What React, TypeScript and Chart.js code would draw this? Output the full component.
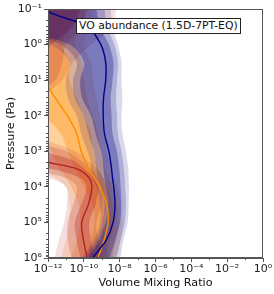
import React, { useEffect, useRef } from 'react';
import { Chart, registerables } from 'chart.js';

Chart.register(...registerables);

// log10 pressure levels (Pa)
const logP = [-1.5, -1, -0.5, 0, 0.5, 1, 1.5, 2, 2.5, 3, 3.25, 3.5, 3.75, 4, 4.5, 5, 5.5, 6, 6.5];

// log10 VMR — navy series
const navyMed = [-13, -12.3, -9.8, -9.05, -8.78, -8.78, -8.9, -8.92, -8.85, -8.6, -8.52, -8.45, -8.4, -8.33, -8.26, -8.37, -8.75, -9.5, -10];
const navyLo1 = [-14, -14, -14, -10.8, -10.0, -10.2, -10.1, -9.6, -9.35, -9.05, -8.95, -8.9, -8.85, -8.75, -8.65, -8.8, -9.15, -9.75, -10.1];
const navyHi1 = [-9.5, -9.3, -9.1, -8.6, -8.35, -8.4, -8.5, -8.45, -8.4, -8.15, -8.08, -8.02, -7.98, -7.95, -7.9, -7.98, -8.25, -8.55, -8.8];
const navyLo2 = [-14, -14, -14, -11.3, -10.4, -10.6, -10.5, -10.0, -9.75, -9.45, -9.35, -9.3, -9.2, -9.0, -8.85, -8.95, -9.3, -9.9, -10.3];
const navyHi2 = [-9.0, -8.85, -8.7, -8.3, -8.1, -8.15, -8.2, -8.15, -8.1, -7.9, -7.82, -7.76, -7.72, -7.7, -7.65, -7.72, -7.95, -8.2, -8.4];
const navyLo3 = [-14, -14, -14, -11.8, -10.8, -11.0, -10.9, -10.4, -10.15, -9.8, -9.65, -9.6, -9.5, -9.3, -9.1, -9.1, -9.45, -10.1, -10.5];
const navyHi3 = [-8.6, -8.5, -8.4, -8.1, -7.9, -7.9, -7.85, -7.9, -7.85, -7.65, -7.58, -7.52, -7.5, -7.48, -7.5, -7.55, -7.8, -7.95, -8.1];

// log10 VMR — orange series
const orangeMed = [-14, -14, -14, -13.5, -12.8, -12.2, -11.6, -10.92, -10.4, -10.15, -9.93, -9.72, -9.42, -9.12, -8.72, -8.65, -8.87, -9.21, -9.5];
const orangeLo1 = [-14, -14, -14, -14, -14, -14, -13, -12.2, -11.3, -10.9, -10.7, -10.5, -10.25, -10.0, -9.5, -9.4, -9.6, -9.9, -10.2];
const orangeHi1 = [-10.2, -10.3, -10.8, -11.2, -10.8, -10.8, -10.4, -10.0, -9.6, -9.5, -9.35, -9.2, -8.95, -8.7, -8.4, -8.3, -8.5, -8.8, -9.0];
const orangeLo2 = [-14, -14, -14, -14, -14, -14, -14, -13.5, -12.5, -11.8, -11.6, -11.4, -11.0, -10.7, -10.3, -10.2, -10.4, -10.7, -11.0];
const orangeHi2 = [-9.8, -9.9, -10.2, -10.5, -10.1, -10.0, -9.8, -9.5, -9.2, -9.1, -8.95, -8.8, -8.6, -8.4, -8.15, -8.05, -8.2, -8.4, -8.6];
const orangeLo3 = [-14, -14, -14, -14, -14, -14, -14, -14, -13.5, -12.8, -12.6, -12.3, -11.6, -11.0, -10.8, -10.8, -11.0, -11.3, -11.6];
const orangeHi3 = [-9.4, -9.5, -9.7, -10.0, -9.6, -9.5, -9.3, -9.1, -8.85, -8.75, -8.6, -8.5, -8.3, -8.1, -7.95, -7.85, -7.95, -8.1, -8.3];

// log10 VMR — red series
const redMed = [-14, -14, -14, -14, -14, -14, -14, -14, -14, -13, -12.4, -10.35, -9.7, -9.55, -9.75, -10.12, -10.02, -9.82, -9.7];
const redLo1 = [-14, -14, -14, -14, -14, -14, -14, -14, -14, -14, -14, -11.8, -10.2, -9.85, -10.15, -10.5, -10.4, -10.2, -10.1];
const redHi1 = [-10.0, -10.2, -10.6, -11.8, -12.5, -13, -14, -14, -14, -12.2, -10.6, -9.95, -9.4, -9.2, -9.35, -9.7, -9.6, -9.4, -9.3];
const redLo2 = [-14, -14, -14, -14, -14, -14, -14, -14, -14, -14, -14, -13, -11.0, -10.4, -10.6, -10.9, -10.9, -10.7, -10.6];
const redHi2 = [-9.6, -9.8, -10.1, -11.0, -11.2, -11.6, -13, -14, -14, -11.0, -10.2, -9.6, -9.2, -8.95, -9.0, -9.3, -9.2, -9.0, -8.9];
const redLo3 = [-14, -14, -14, -14, -14, -14, -14, -14, -14, -14, -14, -14, -12, -11.0, -10.95, -11.1, -11.4, -11.6, -11.5];
const redHi3 = [-8.1, -8.2, -8.4, -9.6, -10.6, -11.2, -12.5, -14, -13, -10.5, -9.8, -9.3, -8.9, -8.7, -8.7, -8.9, -8.8, -8.6, -8.5];

const xMajorExps = [-12, -10, -8, -6, -4, -2, 0];
const xMinorExps = [-11, -9, -7, -5, -3, -1];
const yMajorExps = [-1, 0, 1, 2, 3, 4, 5, 6];
const legendTitle = 'VO abundance (1.5D-7PT-EQ)';
const xTitle = 'Volume Mixing Ratio';
const yTitle = 'Pressure (Pa)';

const SUP: Record<string, string> = { '-': '⁻', '0': '⁰', '1': '¹', '2': '²', '3': '³', '4': '⁴', '5': '⁵', '6': '⁶', '7': '⁷', '8': '⁸', '9': '⁹' };
const tenPow = (e: number) => '10' + String(e).split('').map((c) => SUP[c] || c).join('');

const pts = (vals: number[]) => vals.map((v, i) => ({ x: Math.pow(10, v), y: Math.pow(10, logP[i]) }));

function band(lo: number[], hi: number[], color: string, order: number) {
  return {
    data: [...pts(lo), ...pts(hi).reverse()],
    fill: 'shape',
    backgroundColor: color,
    borderWidth: 0,
    pointRadius: 0,
    tension: 0.35,
    order,
  };
}

function medLine(vals: number[], color: string) {
  return {
    data: pts(vals),
    fill: false,
    borderColor: color,
    borderWidth: 1.4,
    pointRadius: 0,
    tension: 0.35,
    order: 0,
  };
}

const AXIS = '#555';

const framePlugin = {
  id: 'frame',
  afterDraw(chart: any) {
    const { ctx, chartArea: a, scales } = chart;
    ctx.save();
    ctx.strokeStyle = AXIS;
    ctx.lineWidth = 1;
    ctx.strokeRect(a.left + 0.5, a.top + 0.5, a.right - a.left - 1, a.bottom - a.top - 1);
    ctx.beginPath();
    for (const e of xMinorExps) {
      const px = Math.round(scales.x.getPixelForValue(Math.pow(10, e))) + 0.5;
      ctx.moveTo(px, a.bottom);
      ctx.lineTo(px, a.bottom + 2);
    }
    for (let e = -1; e < 6; e++) {
      for (let m = 2; m <= 9; m++) {
        const py = Math.round(scales.y.getPixelForValue(m * Math.pow(10, e))) + 0.5;
        ctx.moveTo(a.left, py);
        ctx.lineTo(a.left - 2, py);
      }
    }
    ctx.stroke();
    ctx.restore();
  },
};

export default function App() {
  const ref = useRef<HTMLCanvasElement>(null);
  useEffect(() => {
    document.body.style.margin = '0';
    Chart.defaults.font.family = 'DejaVu Sans';
    const navyFill = (a: number) => `rgba(0,0,128,${a})`;
    const orangeFill = (a: number) => `rgba(255,140,0,${a})`;
    const redFill = (a: number) => `rgba(178,34,34,${a})`;
    const chart = new Chart(ref.current!, {
      type: 'line',
      data: {
        datasets: [
          medLine(navyMed, '#00008b'),
          medLine(orangeMed, '#ff8c00'),
          medLine(redMed, '#b22222'),
          band(navyLo3, navyHi3, navyFill(0.15), 1),
          band(navyLo2, navyHi2, navyFill(0.2), 1),
          band(navyLo1, navyHi1, navyFill(0.3), 1),
          band(redLo3, redHi3, redFill(0.15), 2),
          band(redLo2, redHi2, redFill(0.2), 2),
          band(redLo1, redHi1, redFill(0.3), 2),
          band(orangeLo3, orangeHi3, orangeFill(0.18), 3),
          band(orangeLo2, orangeHi2, orangeFill(0.25), 3),
          band(orangeLo1, orangeHi1, orangeFill(0.35), 3),
        ] as any,
      },
      options: {
        responsive: false,
        animation: false,
        maintainAspectRatio: false,
        layout: { padding: { top: 9, right: 11, left: 0, bottom: 0 } },
        elements: { line: { capBezierPoints: false } },
        plugins: { legend: { display: false }, tooltip: { enabled: false } },
        scales: {
          x: {
            type: 'logarithmic',
            min: 1e-12,
            max: 1,
            afterFit: (s: any) => { s.height = 36; },
            afterBuildTicks: (s: any) => { s.ticks = xMajorExps.map((e) => ({ value: Math.pow(10, e) })); },
            ticks: {
              autoSkip: false,
              maxRotation: 0,
              padding: 1,
              color: '#222',
              font: { size: 11 },
              callback: (v: any) => tenPow(Math.round(Math.log10(Number(v)))),
            },
            grid: { drawOnChartArea: false, drawTicks: true, tickLength: 4, color: AXIS },
            border: { display: true, color: AXIS },
            title: { display: true, text: xTitle, color: '#111', font: { size: 11.2 } },
          },
          y: {
            type: 'logarithmic',
            reverse: true,
            min: 0.1,
            max: 1e6,
            afterFit: (s: any) => { s.width = 48; },
            afterBuildTicks: (s: any) => { s.ticks = yMajorExps.map((e) => ({ value: Math.pow(10, e) })); },
            ticks: {
              autoSkip: false,
              padding: 2,
              color: '#222',
              font: { size: 11 },
              callback: (v: any) => tenPow(Math.round(Math.log10(Number(v)))),
            },
            grid: { drawOnChartArea: false, drawTicks: true, tickLength: 4, color: AXIS },
            border: { display: true, color: AXIS },
            title: { display: true, text: yTitle, color: '#111', font: { size: 11.2 } },
          },
        },
      } as any,
      plugins: [framePlugin],
    });
    return () => chart.destroy();
  }, []);

  return (
    <div style={{ position: 'relative', width: 274, height: 294 }}>
      <canvas ref={ref} width={274} height={294} style={{ display: 'block' }} />
      <div
        style={{
          position: 'absolute',
          left: 76,
          top: 18,
          height: 14,
          padding: '0 2px',
          border: '1px solid #222',
          background: '#fff',
          fontFamily: 'DejaVu Sans',
          fontSize: 10.8,
          lineHeight: '14px',
          color: '#111',
          whiteSpace: 'nowrap',
        }}
      >
        {legendTitle}
      </div>
    </div>
  );
}
